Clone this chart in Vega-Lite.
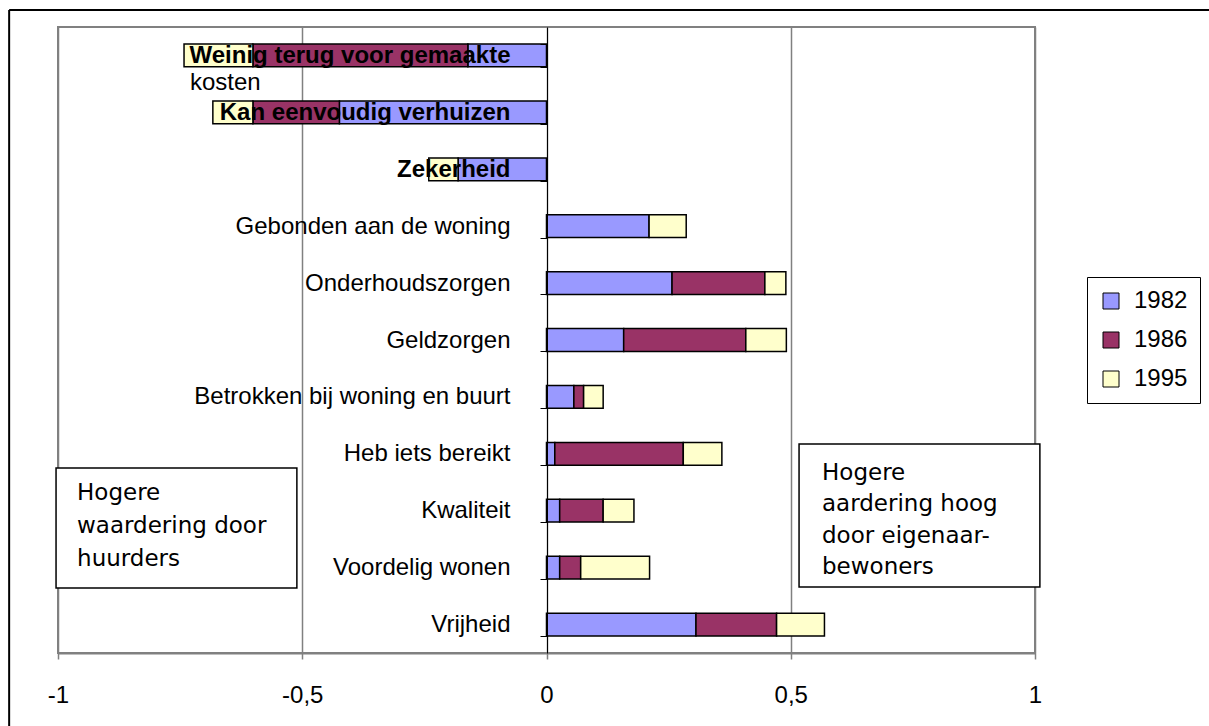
{
  "$schema": "https://vega.github.io/schema/vega-lite/v6.json",
  "width": 977,
  "height": 626,
  "autosize": {"type": "none"},
  "padding": {"left": 58, "top": 27, "right": 174, "bottom": 73},
  "background": "white",
  "config": {
    "view": {"stroke": "#808080", "strokeWidth": 2},
    "font": "Liberation Sans"
  },
  "resolve": {"scale": {"y": "independent"}},
  "layer": [
    {
      "layer": [
        {
          "data": {
            "values": [
              {"categorie": "Weinig terug voor gemaakte kosten", "jaar": "1982", "waarde": -0.161},
              {"categorie": "Weinig terug voor gemaakte kosten", "jaar": "1986", "waarde": -0.440},
              {"categorie": "Weinig terug voor gemaakte kosten", "jaar": "1995", "waarde": -0.141},
              {"categorie": "Kan eenvoudig verhuizen", "jaar": "1982", "waarde": -0.424},
              {"categorie": "Kan eenvoudig verhuizen", "jaar": "1986", "waarde": -0.177},
              {"categorie": "Kan eenvoudig verhuizen", "jaar": "1995", "waarde": -0.082},
              {"categorie": "Zekerheid", "jaar": "1982", "waarde": -0.181},
              {"categorie": "Zekerheid", "jaar": "1995", "waarde": -0.060},
              {"categorie": "Gebonden aan de woning", "jaar": "1982", "waarde": 0.210},
              {"categorie": "Gebonden aan de woning", "jaar": "1995", "waarde": 0.076},
              {"categorie": "Onderhoudszorgen", "jaar": "1982", "waarde": 0.257},
              {"categorie": "Onderhoudszorgen", "jaar": "1986", "waarde": 0.190},
              {"categorie": "Onderhoudszorgen", "jaar": "1995", "waarde": 0.043},
              {"categorie": "Geldzorgen", "jaar": "1982", "waarde": 0.158},
              {"categorie": "Geldzorgen", "jaar": "1986", "waarde": 0.250},
              {"categorie": "Geldzorgen", "jaar": "1995", "waarde": 0.083},
              {"categorie": "Betrokken bij woning en buurt", "jaar": "1982", "waarde": 0.056},
              {"categorie": "Betrokken bij woning en buurt", "jaar": "1986", "waarde": 0.020},
              {"categorie": "Betrokken bij woning en buurt", "jaar": "1995", "waarde": 0.040},
              {"categorie": "Heb iets bereikt", "jaar": "1982", "waarde": 0.017},
              {"categorie": "Heb iets bereikt", "jaar": "1986", "waarde": 0.263},
              {"categorie": "Heb iets bereikt", "jaar": "1995", "waarde": 0.079},
              {"categorie": "Kwaliteit", "jaar": "1982", "waarde": 0.027},
              {"categorie": "Kwaliteit", "jaar": "1986", "waarde": 0.089},
              {"categorie": "Kwaliteit", "jaar": "1995", "waarde": 0.063},
              {"categorie": "Voordelig wonen", "jaar": "1982", "waarde": 0.027},
              {"categorie": "Voordelig wonen", "jaar": "1986", "waarde": 0.043},
              {"categorie": "Voordelig wonen", "jaar": "1995", "waarde": 0.141},
              {"categorie": "Vrijheid", "jaar": "1982", "waarde": 0.306},
              {"categorie": "Vrijheid", "jaar": "1986", "waarde": 0.165},
              {"categorie": "Vrijheid", "jaar": "1995", "waarde": 0.098}
            ]
          },
          "mark": {"type": "bar", "stroke": "black", "strokeWidth": 1.5},
          "encoding": {
            "y": {
              "field": "categorie",
              "type": "nominal",
              "sort": ["Weinig terug voor gemaakte kosten", "Kan eenvoudig verhuizen", "Zekerheid", "Gebonden aan de woning", "Onderhoudszorgen", "Geldzorgen", "Betrokken bij woning en buurt", "Heb iets bereikt", "Kwaliteit", "Voordelig wonen", "Vrijheid"],
              "scale": {"paddingInner": 0.6, "paddingOuter": 0.3},
              "axis": {
                "title": null,
                "offset": -489,
                "zindex": 1,
                "domainColor": "black",
                "domainWidth": 1,
                "tickColor": "black",
                "tickSize": 7,
                "tickBand": "extent",
                "labelPadding": 30,
                "labelFont": "Liberation Sans",
                "labelFontSize": 24,
                "labelColor": "black",
                "labelLimit": 0,
                "labelOverlap": false,
                "labelExpr": "datum.value == 'Weinig terug voor gemaakte kosten' ? 'Weinig terug voor gemaakte' : datum.value",
                "labelFontWeight": {
                  "condition": {"test": "indexof(['Weinig terug voor gemaakte kosten', 'Kan eenvoudig verhuizen', 'Zekerheid'], datum.value) >= 0", "value": "bold"},
                  "value": "normal"
                }
              }
            },
            "x": {
              "field": "waarde",
              "type": "quantitative",
              "stack": "zero",
              "scale": {"domain": [-1, 1], "nice": false},
              "axis": {
                "title": null,
                "values": [-1, -0.5, 0, 0.5, 1],
                "grid": true,
                "gridColor": "#808080",
                "gridWidth": 1.5,
                "domainColor": "#808080",
                "domainWidth": 2,
                "tickColor": "#808080",
                "tickWidth": 1.5,
                "tickSize": 6,
                "labelPadding": 24,
                "labelFont": "Liberation Sans",
                "labelFontSize": 24,
                "labelColor": "black",
                "labelFlush": false,
                "labelExpr": "replace(datum.value + '', '.', ',')"
              }
            },
            "color": {
              "field": "jaar",
              "type": "nominal",
              "scale": {"domain": ["1982", "1986", "1995"], "range": ["#9999FF", "#993366", "#FFFFCC"]},
              "legend": {
                "title": null,
                "orient": "none",
                "legendX": 1029,
                "legendY": 250,
                "direction": "vertical",
                "symbolType": "square",
                "symbolSize": 256,
                "symbolStrokeColor": "black",
                "symbolStrokeWidth": 1,
                "labelFont": "Liberation Sans",
                "labelFontSize": 24,
                "labelColor": "black",
                "labelOffset": 11,
                "rowPadding": 15,
                "padding": 12,
                "strokeColor": "black",
                "fillColor": "white"
              }
            },
            "order": {"field": "jaar", "type": "ordinal"}
          }
        },
        {
          "data": {"values": [{}]},
          "mark": {"type": "text", "align": "left", "baseline": "top", "font": "Liberation Sans", "fontSize": 24, "color": "black", "dy": 16},
          "encoding": {
            "y": {"datum": "Weinig terug voor gemaakte kosten"},
            "x": {"datum": -0.73, "scale": {"domain": [-1, 1], "nice": false}},
            "text": {"value": "kosten"}
          }
        }
      ]
    },
    {
      "data": {"values": [{}]},
      "mark": {"type": "rect", "fill": "white", "stroke": "black", "strokeWidth": 1.5},
      "encoding": {
        "x": {"datum": -1.004, "scale": {"domain": [-1, 1], "nice": false}},
        "x2": {"datum": -0.511},
        "y": {"datum": 7.749, "scale": {"domain": [0, 11], "reverse": true, "nice": false, "zero": false}, "axis": null},
        "y2": {"datum": 9.858}
      }
    },
    {
      "data": {"values": [{}]},
      "mark": {"type": "text", "align": "left", "baseline": "top", "font": "DejaVu Sans", "fontSize": 23, "lineHeight": 33, "lineBreak": "\n", "color": "black"},
      "encoding": {
        "x": {"datum": -0.961, "scale": {"domain": [-1, 1], "nice": false}},
        "y": {"datum": 7.987, "scale": {"domain": [0, 11], "reverse": true, "nice": false, "zero": false}, "axis": null},
        "text": {"value": "Hogere\nwaardering door\nhuurders"}
      }
    },
    {
      "data": {"values": [{}]},
      "mark": {"type": "rect", "fill": "white", "stroke": "black", "strokeWidth": 1.5},
      "encoding": {
        "x": {"datum": 0.517, "scale": {"domain": [-1, 1], "nice": false}},
        "x2": {"datum": 1.01},
        "y": {"datum": 7.327, "scale": {"domain": [0, 11], "reverse": true, "nice": false, "zero": false}, "axis": null},
        "y2": {"datum": 9.84}
      }
    },
    {
      "data": {"values": [{}]},
      "mark": {"type": "text", "align": "left", "baseline": "top", "font": "DejaVu Sans", "fontSize": 23, "lineHeight": 31.5, "lineBreak": "\n", "color": "black"},
      "encoding": {
        "x": {"datum": 0.564, "scale": {"domain": [-1, 1], "nice": false}},
        "y": {"datum": 7.637, "scale": {"domain": [0, 11], "reverse": true, "nice": false, "zero": false}, "axis": null},
        "text": {"value": "Hogere\naardering hoog\ndoor eigenaar-\nbewoners"}
      }
    },
    {
      "data": {"values": [{}]},
      "mark": {"type": "rule", "stroke": "black", "strokeWidth": 2},
      "encoding": {
        "x": {"datum": -1.1, "scale": {"domain": [-1, 1], "nice": false}},
        "y": {"datum": -0.3, "scale": {"domain": [0, 11], "reverse": true, "nice": false, "zero": false}, "axis": null},
        "y2": {"datum": 13}
      }
    },
    {
      "data": {"values": [{}]},
      "mark": {"type": "rule", "stroke": "black", "strokeWidth": 2},
      "encoding": {
        "x": {"datum": -1.1, "scale": {"domain": [-1, 1], "nice": false}},
        "x2": {"datum": 2},
        "y": {"datum": -0.3, "scale": {"domain": [0, 11], "reverse": true, "nice": false, "zero": false}, "axis": null}
      }
    }
  ]
}
